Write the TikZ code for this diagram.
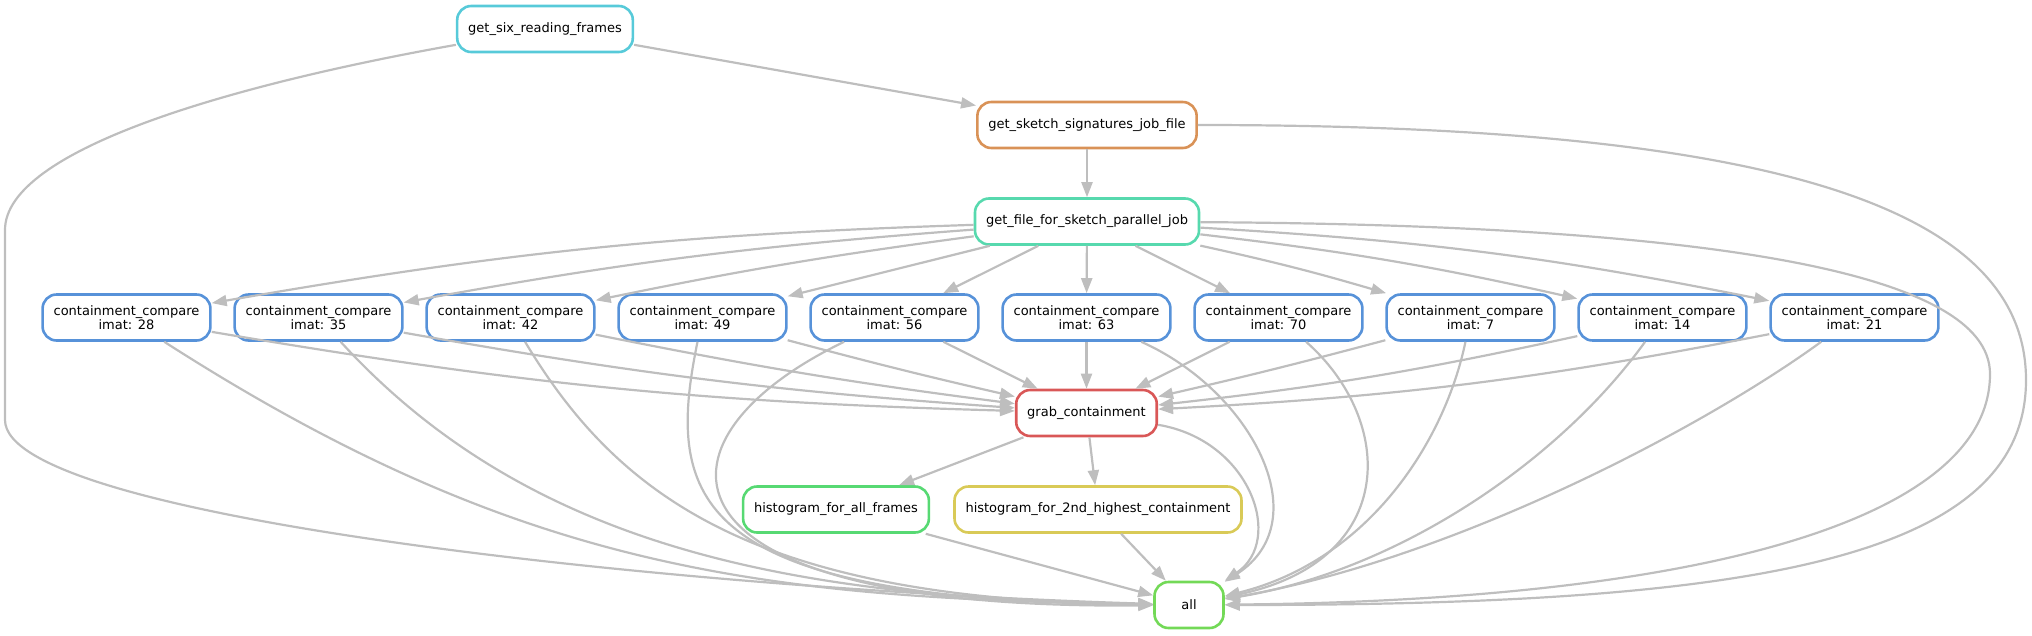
\documentclass[tikz,border=0pt]{standalone}
\usepackage{fontspec}
\setmainfont{DejaVu Sans}
\usepackage{xcolor}
\usepackage{tikz}
\usetikzlibrary{arrows.meta}
\definecolor{sixcol}{HTML}{57CAD9}
\definecolor{sketchcol}{HTML}{D99257}
\definecolor{filecol}{HTML}{57D9AE}
\definecolor{cccol}{HTML}{5792D9}
\definecolor{grabcol}{HTML}{D95757}
\definecolor{histallcol}{HTML}{57D973}
\definecolor{histseccol}{HTML}{D9CA57}
\definecolor{allcol}{HTML}{73D957}
\definecolor{edgegrey}{HTML}{BEBEBE}

\begin{document}
\begin{tikzpicture}[
        x=1pt, y=-1pt,
        job/.style={
            draw=#1,
            line width=2.6pt,
            rounded corners=14pt,
            minimum width=69pt,
            minimum height=46pt,
            inner xsep=11pt,
            align=center,
            font=\fontsize{13}{14.5}\selectfont
        },
        dep/.style={
            -{Triangle[length=15pt,width=11pt]},
            line width=2.2pt,
            draw=edgegrey
        }
    ]

    \useasboundingbox (0,0) rectangle (2032,635);

    \node[job=sixcol] (six) at (545,29) {get\_six\_reading\_frames};
    \node[job=sketchcol] (sketch) at (1087,125) {get\_sketch\_signatures\_job\_file};
    \node[job=filecol] (filejob) at (1087,221.5) {get\_file\_for\_sketch\_parallel\_job};

    % one containment_compare job per imat value
    \node[job=cccol] (cc28) at (126.5,317.5) {containment\_compare\\imat: 28};
    \node[job=cccol] (cc35) at (318.5,317.5) {containment\_compare\\imat: 35};
    \node[job=cccol] (cc42) at (510.5,317.5) {containment\_compare\\imat: 42};
    \node[job=cccol] (cc49) at (702.5,317.5) {containment\_compare\\imat: 49};
    \node[job=cccol] (cc56) at (894.5,317.5) {containment\_compare\\imat: 56};
    \node[job=cccol] (cc63) at (1086.5,317.5) {containment\_compare\\imat: 63};
    \node[job=cccol] (cc70) at (1278.5,317.5) {containment\_compare\\imat: 70};
    \node[job=cccol] (cc7) at (1470.5,317.5) {containment\_compare\\imat: 7};
    \node[job=cccol] (cc14) at (1662.5,317.5) {containment\_compare\\imat: 14};
    \node[job=cccol] (cc21) at (1854.5,317.5) {containment\_compare\\imat: 21};

    \node[job=grabcol] (grab) at (1086.5,413) {grab\_containment};
    \node[job=histallcol] (histall) at (836,509.5) {histogram\_for\_all\_frames};
    \node[job=histseccol] (histsec) at (1098,509.5) {histogram\_for\_2nd\_highest\_containment};
    \node[job=allcol] (all) at (1189,605) {all};

    % upper chain
    \draw[dep] (six) -- (sketch);
    \draw[dep] (sketch) -- (filejob);
    \draw[dep] (six) .. controls (230,85) and (5,150) .. (5,230) -- (5,420)
        .. controls (5,520) and (700,590) .. (all);
    \draw[dep] (sketch) .. controls (1750,125) and (2026,200) .. (2026,380)
        .. controls (2026,560) and (1750,605) .. (all);
    \draw[dep] (filejob) .. controls (1700,225) and (1990,270) .. (1990,374)
        .. controls (1990,520) and (1700,600) .. (all);

    % fan out to the compare jobs
    \draw[dep] (filejob) to[bend right=4] (cc28);
    \draw[dep] (filejob) to[bend right=3] (cc35);
    \draw[dep] (filejob) to[bend right=2] (cc42);
    \draw[dep] (filejob) -- (cc49);
    \draw[dep] (filejob) -- (cc56);
    \draw[dep] (filejob) -- (cc63);
    \draw[dep] (filejob) -- (cc70);
    \draw[dep] (filejob) to[bend left=2] (cc7);
    \draw[dep] (filejob) to[bend left=3] (cc14);
    \draw[dep] (filejob) to[bend left=4] (cc21);

    % fan in to grab_containment
    \draw[dep] (cc28) to[bend right=4] (grab);
    \draw[dep] (cc35) to[bend right=3] (grab);
    \draw[dep] (cc42) to[bend right=2] (grab);
    \draw[dep] (cc49) to[bend right=1] (grab);
    \draw[dep] (cc56) -- (grab);
    \draw[dep] (cc63) -- (grab);
    \draw[dep] (cc70) -- (grab);
    \draw[dep] (cc7) to[bend left=1] (grab);
    \draw[dep] (cc14) to[bend left=3] (grab);
    \draw[dep] (cc21) to[bend left=4] (grab);

    % every compare job also feeds all
    \draw[dep] (cc28) .. controls (520,570) and (760,598) .. (all);
    \draw[dep] (cc35) .. controls (540,560) and (820,598) .. (all);
    \draw[dep] (cc42) .. controls (620,500) and (760,600) .. (all);
    \draw[dep] (cc49) .. controls (665,500) and (690,600) .. (all);
    \draw[dep] (cc56) .. controls (640,440) and (640,610) .. (all);
    \draw[dep] (cc63) .. controls (1250,390) and (1320,520) .. (all);
    \draw[dep] (cc70) .. controls (1395,420) and (1400,560) .. (all);
    \draw[dep] (cc7) .. controls (1445,440) and (1370,560) .. (all);
    \draw[dep] (cc14) .. controls (1560,460) and (1400,570) .. (all);
    \draw[dep] (cc21) .. controls (1700,430) and (1450,560) .. (all);

    % lower part
    \draw[dep] (grab) -- (histall);
    \draw[dep] (grab) -- (histsec);
    \draw[dep] (grab) .. controls (1250,440) and (1285,540) .. (all);
    \draw[dep] (histall) -- (all);
    \draw[dep] (histsec) -- (all);

\end{tikzpicture}
\end{document}
